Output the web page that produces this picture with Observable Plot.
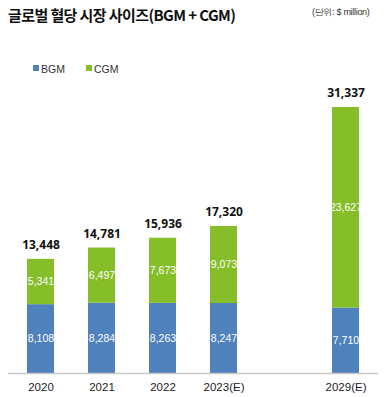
<!DOCTYPE html>
<html>
<head>
<meta charset="utf-8">
<script src="https://cdn.jsdelivr.net/npm/d3@7"></script>
<script src="https://cdn.jsdelivr.net/npm/@observablehq/plot@0.6"></script>
<style>
  body { margin: 0; background: #fff; }
  #wrap { position: relative; width: 386px; height: 397px; overflow: hidden; font-family: "Noto Sans CJK KR", "Noto Sans", sans-serif; }
  #title { position: absolute; left: 8px; top: 4px; font-size: 15px; font-weight: 700; color: #111; letter-spacing: -0.6px; white-space: nowrap; z-index: 2; }
  #unit { position: absolute; left: 312px; top: 6px; font-size: 9px; color: #333; letter-spacing: -0.3px; white-space: nowrap; z-index: 2; font-family: "Liberation Sans", sans-serif; }
  #legend { position: absolute; left: 33px; top: 63px; font-size: 10.5px; color: #333; z-index: 2; font-family: "Liberation Sans", sans-serif; display: flex; }
  .item { display: flex; align-items: center; margin-right: 21px; }
  .sw { width: 6px; height: 6px; margin-right: 2px; margin-top: -3px; }
  #chart { position: absolute; left: 0; top: 0; }
</style>
</head>
<body>
<div id="wrap">
  <div id="title">글로벌 혈당 시장 사이즈(BGM + CGM)</div>
  <div id="unit">(단위: $ million)</div>
  <div id="legend"></div>
  <div id="chart"></div>
</div>
<script>
const years = ["2020", "2021", "2022", "2023(E)", "2029(E)"];
const bgm = [8108, 8284, 8263, 8247, 7710];
const cgm = [5341, 6497, 7673, 9073, 23627];
const totals = [13448, 14781, 15936, 17320, 31337];
const seriesNames = ["BGM", "CGM"];
const seriesColors = ["#4f81bd", "#86be2a"];
const xDomain = ["2020", "2021", "2022", "2023(E)", "", "2029(E)"];

const rows = [];
years.forEach((yr, i) => rows.push({year: yr, series: "BGM", value: bgm[i]}));
years.forEach((yr, i) => rows.push({year: yr, series: "CGM", value: cgm[i]}));
const totalRows = years.map((yr, i) => ({year: yr, total: totals[i]}));

const legend = document.getElementById("legend");
seriesNames.forEach((s, i) => {
  const it = document.createElement("div");
  it.className = "item";
  it.innerHTML = `<span class="sw" style="background:${seriesColors[i]}"></span><span>${s}</span>`;
  legend.appendChild(it);
});

const fmt = d3.format(",");
const chart = Plot.plot({
  width: 386,
  height: 397,
  marginTop: 107,
  marginBottom: 24,
  marginLeft: 8,
  marginRight: 8,
  style: {fontFamily: "'Liberation Sans', sans-serif", background: "transparent"},
  x: {domain: xDomain, paddingInner: 0.55, paddingOuter: 0.268, label: null},
  y: {domain: [0, d3.max(totals)], axis: null},
  color: {domain: seriesNames, range: seriesColors},
  marks: [
    Plot.barY(rows, {x: "year", y: "value", fill: "series", order: seriesNames}),
    Plot.text(rows, Plot.stackY({x: "year", y: "value", z: "series", order: seriesNames, text: d => fmt(d.value), fill: "white", fontSize: 10.5})),
    Plot.text(totalRows, {x: "year", y: "total", text: d => fmt(d.total), dy: -14, fontSize: 12, fontWeight: "bold", fill: "#111", fontFamily: "'Noto Sans', sans-serif"}),
    Plot.ruleY([0], {stroke: "#c8c8c8", strokeWidth: 1.5}),
    Plot.axisX({tickSize: 0, tickPadding: 9, fontSize: 11.5, color: "#222", label: null, tickFormat: d => d})
  ]
});
document.getElementById("chart").appendChild(chart);
</script>
</body>
</html>
